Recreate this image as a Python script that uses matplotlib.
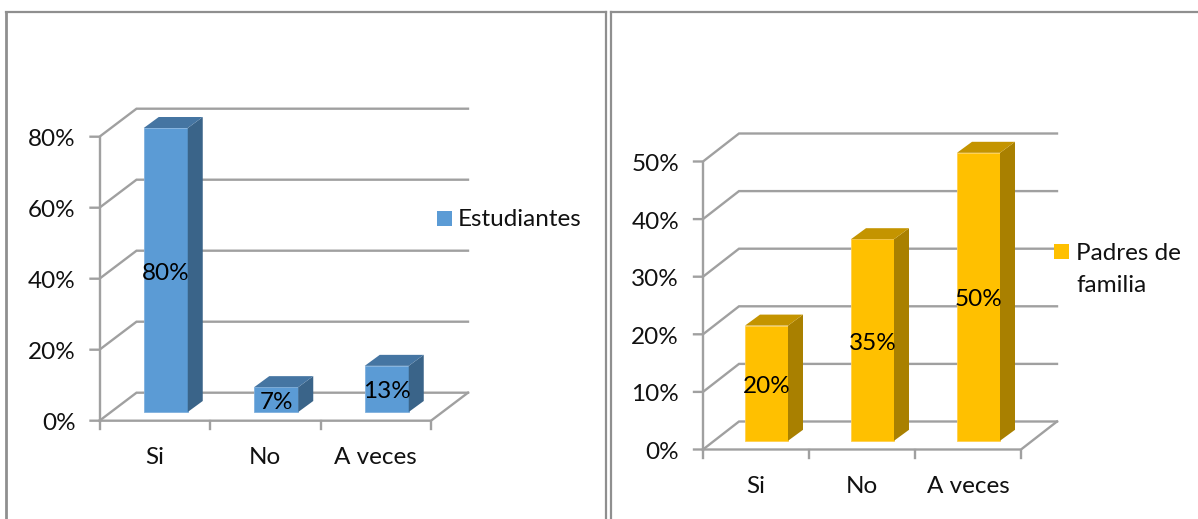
import matplotlib
matplotlib.use("Agg")
import matplotlib.pyplot as plt
from matplotlib.lines import Line2D
from matplotlib.patches import Polygon, Rectangle

W, H = 1198, 519
plt.rcParams['font.family'] = ['Lato', 'DejaVu Sans']

categories = ["Si", "No", "A veces"]
estudiantes = [80, 7, 13]
padres = [20, 35, 50]
ticks_est = [0, 20, 40, 60, 80]
ticks_pad = [0, 10, 20, 30, 40, 50]

GRID = "#a0a0a0"
FONT = 17.5


def px_line(fig, xs, ys, color="#8f8f8f", lw=1.6):
    # frame lines, given in figure pixels
    fig.add_artist(Line2D([x / W for x in xs], [1 - y / H for y in ys],
                          color=color, lw=lw, transform=fig.transFigure))


def chart_3d(fig, box, values, ticks, face, edge, side, top, back=(37, 28),
             bar_w=44, bar_d=(15, 11), floor_y=8.7, label_dy=3):
    """Fake 3-D column chart. box = front plane in pixels (x0, y_top, x1, y_base)."""
    x0, y_top, x1, y_base = box
    ax = fig.add_axes([x0 / W, 1 - y_base / H, (x1 - x0) / W, (y_base - y_top) / H])
    ax.set_xlim(0, len(values))
    ax.set_ylim(0, ticks[-1])
    ax.axis("off")

    # pixel -> data helpers
    ux = len(values) / (x1 - x0)
    uy = ticks[-1] / (y_base - y_top)
    bx, by = back[0] * ux, back[1] * uy
    n = len(values)

    def line(xs, ys, lw=1.7):
        ax.plot(xs, ys, color=GRID, lw=lw, clip_on=False, solid_capstyle="projecting",
                solid_joinstyle="miter", zorder=1)

    tick_len = 9
    for t in ticks:
        line([-tick_len * ux, 0, bx, n + bx], [t, t, t + by, t + by])
        ax.text(-24 * ux, t - label_dy * uy, f"{t}%", ha="right", va="center", fontsize=FONT,
                color="#111111", clip_on=False)
    line([0, 0], [0, ticks[-1]])
    line([0, n, n + bx], [0, 0, by])
    for i in range(n + 1):
        line([i, i], [0, -8 * uy])

    for i, (cat, v) in enumerate(zip(categories, values)):
        ax.text(i + 0.5, -37 * uy, cat, ha="center",
                va="center", fontsize=FONT, color="#111111", clip_on=False)
        # front face sits a little into the floor
        left = i + 0.5 - 11 * ux
        right = left + bar_w * ux
        base = floor_y * uy
        dx, dy = bar_d[0] * ux, bar_d[1] * uy
        ax.add_patch(Rectangle((left, base), right - left, v, fc=face, ec=edge,
                               lw=0.6, clip_on=False, zorder=3))
        ax.add_patch(Polygon([(right, base), (right + dx, base + dy),
                              (right + dx, base + v + dy), (right, base + v)],
                             fc=side, ec="none", clip_on=False, zorder=3))
        ax.add_patch(Polygon([(left, base + v), (left + dx, base + v + dy),
                              (right + dx, base + v + dy), (right, base + v)],
                             fc=top, ec="none", clip_on=False, zorder=3))
        ax.text((left + right) / 2, base + v / 2 - label_dy * uy, f"{v}%", ha="center", va="center",
                fontsize=FONT, color="black", clip_on=False, zorder=5)
    return ax


fig = plt.figure(figsize=(W / 100, H / 100), dpi=100, facecolor="white")

# panel frames
px_line(fig, [6, 6], [519, 12], lw=2)
px_line(fig, [6, 606], [12, 12])
px_line(fig, [606, 606], [12, 519])
px_line(fig, [611, 611], [519, 12])
px_line(fig, [611, 1198], [12, 12])

chart_3d(fig, (99.5, 136.7, 431, 420.7), estudiantes, ticks_est,
         "#5b9bd5", "#7fb0de", "#3a6489", "#4575a2")
chart_3d(fig, (703, 161.5, 1021, 449.5), padres, ticks_pad,
         "#ffc000", "#ffcf4d", "#a98000", "#c49400", back=(36, 28), bar_w=43)

# legends
fig.add_artist(Rectangle((437 / W, 1 - 226 / H), 15 / W, 15 / H, fc="#5b9bd5", ec="none",
                         transform=fig.transFigure))
fig.text(458 / W, 1 - 220 / H, "Estudiantes", fontsize=FONT, va="center", color="#111111")
fig.add_artist(Rectangle((1054 / W, 1 - 259 / H), 15 / W, 15 / H, fc="#ffc000", ec="none",
                         transform=fig.transFigure))
fig.text(1076 / W, 1 - 253 / H, "Padres de", fontsize=FONT, va="center", color="#111111")
fig.text(1076 / W, 1 - 285 / H, "familia", fontsize=FONT, va="center", color="#111111")

fig.savefig("out.png", dpi=100)
